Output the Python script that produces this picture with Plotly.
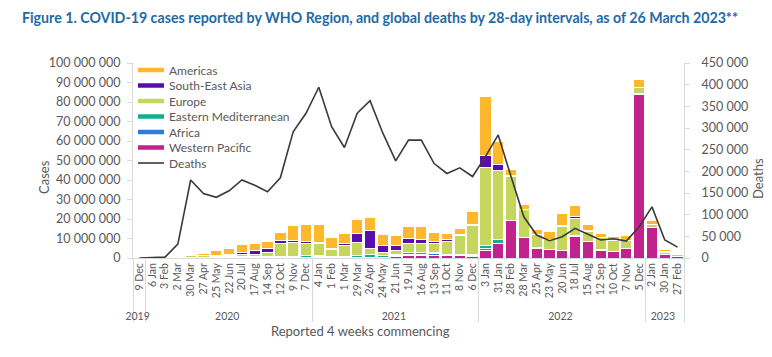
import plotly.graph_objects as go

years = ['2019'] + ['2020'] * 13 + ['2021'] * 13 + ['2022'] * 13 + ['2023'] * 3
dates = ['9 Dec',
         '6 Jan', '3 Feb', '2 Mar', '30 Mar', '27 Apr', '25 May', '22 Jun', '20 Jul', '17 Aug', '14 Sep', '12 Oct', '9 Nov', '7 Dec',
         '4 Jan', '1 Feb', '1 Mar', '29 Mar', '26 Apr', '24 May', '21 Jun', '19 Jul', '16 Aug', '13 Sep', '11 Oct', '8 Nov', '6 Dec',
         '3 Jan', '31 Jan', '28 Feb', '28 Mar', '25 Apr', '23 May', '20 Jun', '18 Jul', '15 Aug', '12 Sep', '10 Oct', '7 Nov', '5 Dec',
         '2 Jan', '30 Jan', '27 Feb']

# cases in millions per region
western_pacific = [0.0, 0.01, 0.07, 0.03, 0.05, 0.04, 0.02, 0.05, 0.1, 0.1, 0.09, 0.08, 0.15, 0.2,
                   0.2, 0.1, 0.12, 0.25, 0.3, 0.3, 0.55, 1.3, 1.4, 1.3, 1.4, 1.2, 0.9,
                   3.8, 7.2, 19.0, 10.4, 5.0, 4.3, 3.8, 10.9, 8.4, 4.1, 3.1, 4.8, 84.1,
                   15.6, 1.8, 0.6]
africa = [0.0, 0.0, 0.0, 0.0, 0.02, 0.05, 0.1, 0.25, 0.3, 0.2, 0.15, 0.15, 0.2, 0.3,
          0.4, 0.25, 0.2, 0.2, 0.15, 0.2, 0.6, 0.6, 0.4, 0.9, 0.2, 0.15, 0.5,
          1.2, 0.3, 0.1, 0.05, 0.05, 0.1, 0.1, 0.1, 0.05, 0.04, 0.03, 0.03, 0.03,
          0.03, 0.02, 0.02]
eastern_med = [0.0, 0.0, 0.0, 0.03, 0.15, 0.3, 0.45, 0.5, 0.4, 0.35, 0.4, 0.5, 0.6, 0.55,
               0.45, 0.35, 0.55, 0.9, 1.2, 0.6, 0.8, 1.0, 0.9, 0.5, 0.3, 0.25, 0.25,
               1.2, 1.9, 0.3, 0.15, 0.1, 0.1, 0.2, 0.3, 0.2, 0.1, 0.08, 0.08, 0.06,
               0.05, 0.05, 0.05]
europe = [0.0, 0.0, 0.0, 0.35, 0.9, 0.8, 0.4, 0.5, 0.8, 1.3, 2.4, 6.5, 7.2, 6.3,
          6.3, 3.6, 5.5, 6.8, 3.0, 1.8, 2.0, 4.5, 4.6, 4.6, 6.6, 10.0, 15.0,
          40.0, 35.5, 22.5, 14.2, 7.0, 4.9, 12.2, 9.0, 5.1, 6.3, 5.6, 4.1, 3.3,
          1.7, 1.2, 0.9]
south_east_asia = [0.0, 0.0, 0.0, 0.0, 0.01, 0.08, 0.4, 0.7, 1.2, 1.7, 1.9, 1.5, 1.0, 0.9,
                   0.7, 0.45, 0.9, 4.6, 9.7, 3.4, 2.4, 2.4, 2.2, 1.0, 1.0, 0.5, 0.4,
                   6.2, 3.1, 0.5, 0.15, 0.1, 0.1, 0.3, 0.9, 0.4, 0.2, 0.1, 0.1, 0.1,
                   0.05, 0.05, 0.6]
americas = [0.0, 0.0, 0.0, 0.15, 0.9, 1.1, 2.3, 3.1, 4.0, 3.7, 3.7, 4.4, 7.5, 8.7,
            9.1, 5.9, 5.1, 6.8, 6.3, 5.5, 5.1, 6.2, 6.8, 5.0, 3.0, 3.2, 7.0,
            30.4, 12.0, 3.0, 2.3, 2.6, 4.0, 6.3, 5.6, 3.1, 1.8, 1.9, 2.2, 3.8,
            2.0, 1.3, 0.9]
deaths = [0, 200, 2000, 32000, 180000, 149000, 140000, 155000, 180000, 168000, 153000, 185000, 291000, 334000,
          394000, 303000, 255000, 334000, 363000, 288000, 224000, 272000, 272000, 218000, 195000, 208000, 188000,
          234000, 284000, 188000, 95000, 53000, 40000, 49000, 68500, 55000, 41500, 44500, 39000, 72000,
          118000, 41500, 25000]

regions = [
    ('Western Pacific', western_pacific, '#C1228E'),
    ('Africa', africa, '#2B7CDD'),
    ('Eastern Mediterranean', eastern_med, '#15AE94'),
    ('Europe', europe, '#C6D55C'),
    ('South-East Asia', south_east_asia, '#5A0CAE'),
    ('Americas', americas, '#FFB72B'),
]
death_color = '#3A3A3A'

W, H = 772, 357
ML, MR, MT, MB = 133, 88, 63, 99
PW, PH = W - ML - MR, H - MT - MB


def px_x(p):
    return (p - ML) / PW


def px_y(p):
    return (H - MB - p) / PH


x = [years, dates]
font = 'Lato, "Open Sans", sans-serif'
grey = '#595959'
axis_grey = '#D9D9D9'

fig = go.Figure()
for name, vals, col in regions:
    fig.add_trace(go.Bar(
        x=x, y=[v * 1e6 for v in vals], name=name, showlegend=False,
        marker=dict(color=col, line=dict(color='white', width=1)),
        yaxis='y'))

fig.add_trace(go.Scatter(x=x, y=deaths, name='Deaths', mode='lines', showlegend=False,
                         line=dict(color=death_color, width=1.6), yaxis='y2'))

# compact legend (like the original) made of shapes + text
legend_items = [(n, c, 4.5) for n, _, c in reversed(regions)] + [('Deaths', death_color, 1.6)]
shapes, annotations = [], []
for i, (name, col, lw) in enumerate(legend_items):
    cy = 70 + i * 15.5
    shapes.append(dict(type='line', xref='paper', yref='paper', x0=px_x(138), x1=px_x(164),
                       y0=px_y(cy), y1=px_y(cy), line=dict(color=col, width=lw)))
    annotations.append(dict(text=name, xref='paper', yref='paper', x=px_x(167), y=px_y(cy),
                            xanchor='left', yanchor='middle', showarrow=False,
                            font=dict(size=12, color=grey)))

annotations += [
    dict(text='Cases', xref='paper', yref='paper', x=px_x(44), y=px_y(177), textangle=-90,
         xanchor='center', yanchor='middle', showarrow=False, font=dict(size=13, color=grey)),
    dict(text='Deaths', xref='paper', yref='paper', x=px_x(758), y=px_y(179), textangle=-90,
         xanchor='center', yanchor='middle', showarrow=False, font=dict(size=13, color=grey)),
    dict(text='Reported 4 weeks commencing', xref='paper', yref='paper', x=px_x(360), y=px_y(331),
         xanchor='center', yanchor='middle', showarrow=False, font=dict(size=13, color=grey)),
]

fig.update_layout(
    width=W, height=H,
    margin=dict(l=ML, r=MR, t=MT, b=MB, autoexpand=False),
    paper_bgcolor='white', plot_bgcolor='white',
    barmode='stack', bargap=0.12,
    separators='. ',
    showlegend=False,
    font=dict(family=font, color=grey, size=12),
    title=dict(text='<b>Figure 1. COVID-19 cases reported by WHO Region, and global deaths by 28-day intervals, as of 26 March 2023**</b>',
               x=22 / W, xanchor='left', y=1 - 18 / H, yanchor='middle',
               font=dict(family=font, size=14.2, color='#1F6AA5')),
    shapes=shapes,
    annotations=annotations,
    xaxis=dict(type='multicategory', showline=True, linecolor=axis_grey, tickangle=-90,
               tickmode='linear', dtick=1,
               tickfont=dict(size=10.5, color=grey), dividercolor=axis_grey, dividerwidth=1,
               showgrid=False, ticks=''),
    yaxis=dict(range=[0, 100e6], dtick=10e6, tickformat=',d', showgrid=False, zeroline=False,
               showline=True, linecolor=axis_grey, ticks='outside', ticklen=5, tickcolor=axis_grey,
               ticklabelstandoff=4, tickfont=dict(size=12.5, color=grey)),
    yaxis2=dict(range=[0, 450000], dtick=50000, tickformat=',d', overlaying='y', side='right',
                showgrid=False, zeroline=False, showline=True, linecolor=axis_grey,
                ticks='outside', ticklen=5, tickcolor=axis_grey, ticklabelstandoff=9,
                tickfont=dict(size=12.5, color=grey)),
)

fig.write_html('out.html', config={'displayModeBar': False},
               post_script="document.body.style.margin='0';")
